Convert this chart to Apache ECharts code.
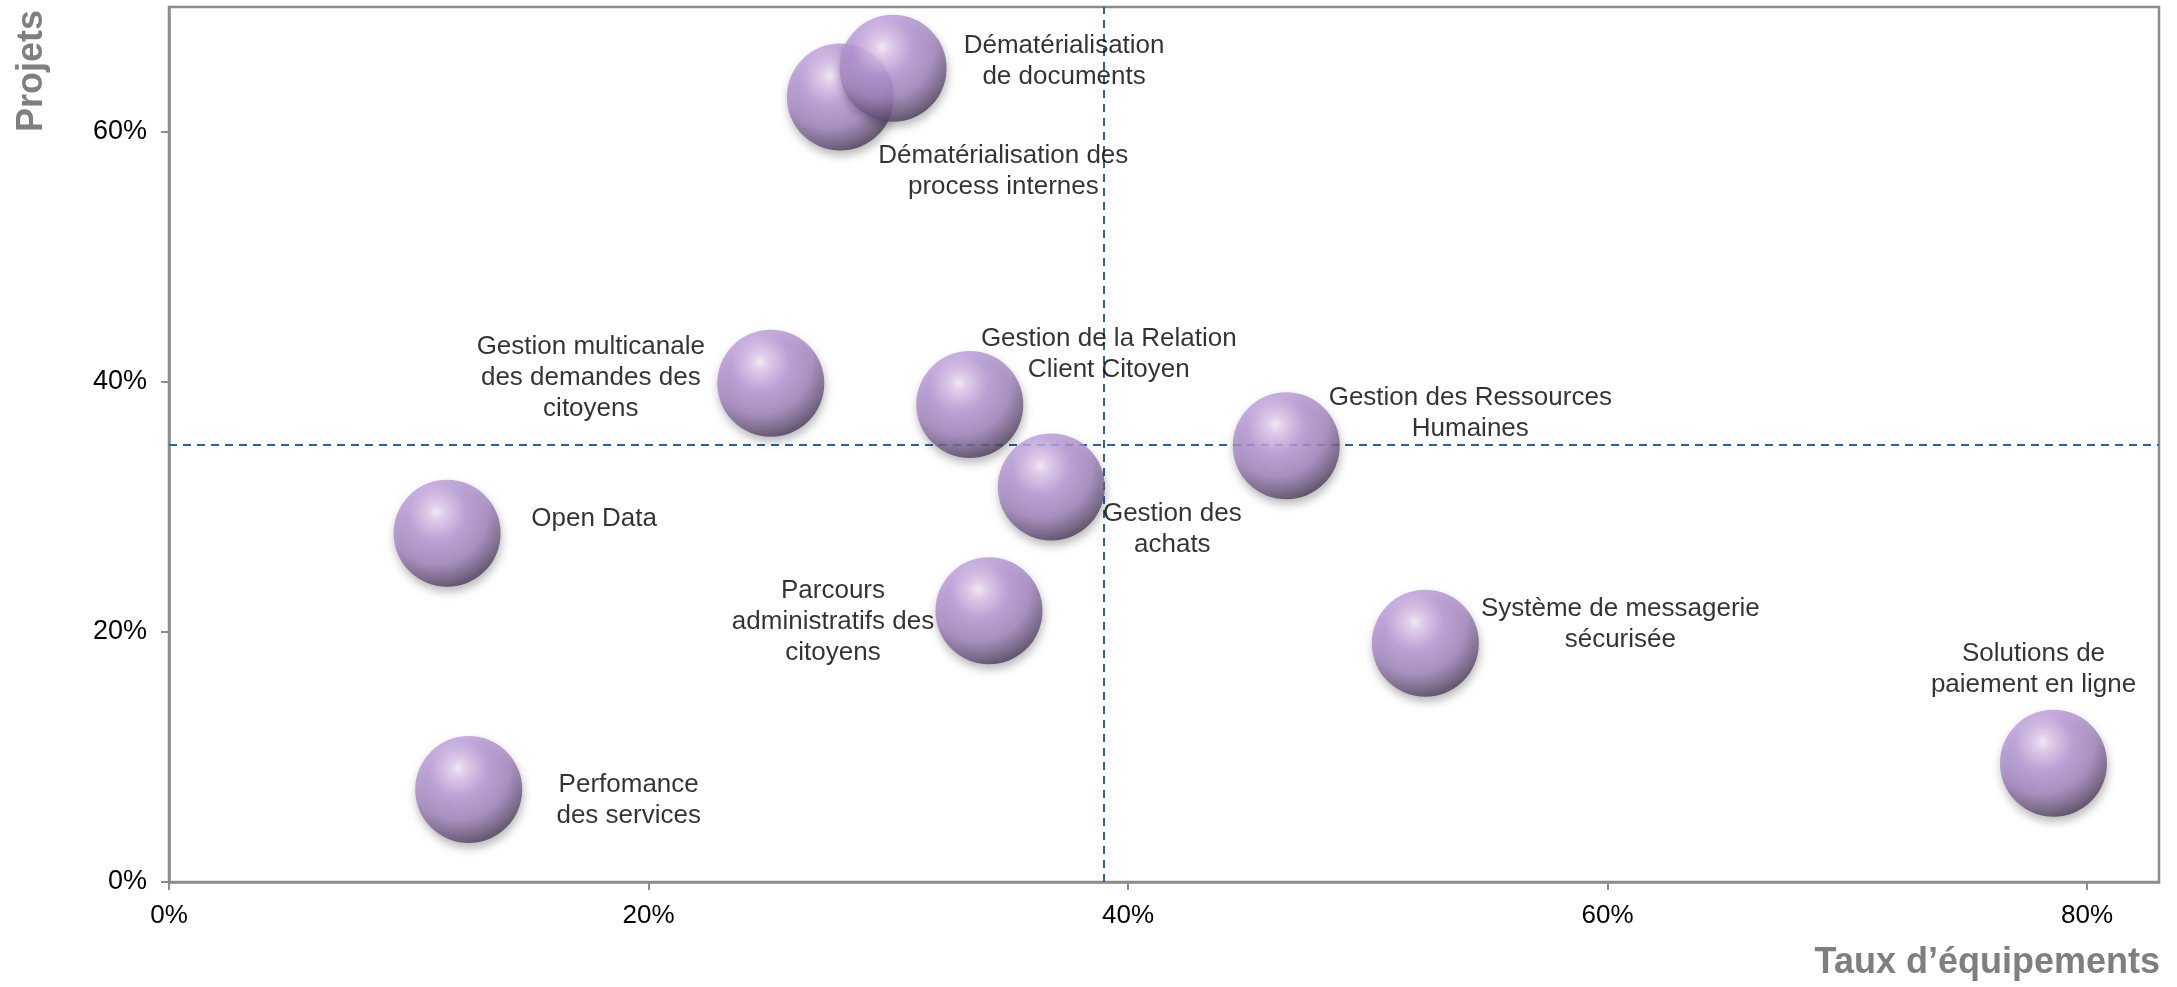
<!DOCTYPE html>
<html>
<head>
<meta charset="utf-8">
<title>Projets / Taux d'équipements</title>
<script src="https://cdn.jsdelivr.net/npm/echarts@6/dist/echarts.min.js"></script>
<style>
  html, body { margin: 0; padding: 0; background: #fff; }
  #chart { width: 2177px; height: 987px; }
</style>
</head>
<body>
<div id="chart"></div>
<script>
// valeurs
const projectNames = [
    'Dématérialisation des\nprocess internes',
    'Dématérialisation\nde documents',
    'Gestion multicanale\ndes demandes des\ncitoyens',
    'Gestion de la Relation\nClient Citoyen',
    'Gestion des\nachats',
    'Gestion des Ressources\nHumaines',
    'Open Data',
    'Parcours\nadministratifs des\ncitoyens',
    'Système de messagerie\nsécurisée',
    'Solutions de\npaiement en ligne',
    'Perfomance\ndes services'
];
const equipRate = [0.280, 0.302, 0.251, 0.334, 0.368, 0.466, 0.116, 0.342, 0.524, 0.786, 0.125];
const projectRate = [0.628, 0.651, 0.399, 0.382, 0.316, 0.349, 0.279, 0.217, 0.191, 0.095, 0.074];
const xTicks = [0, 0.2, 0.4, 0.6, 0.8];
const yTicks = [0, 0.2, 0.4, 0.6];
const avgEquip = 0.392;
const avgProjects = 0.346;

// décalage des étiquettes par rapport au centre de la bulle (px)
const labelOffsets = [
    [163, 74], [171, -7], [-180, -5], [139, -50], [121, 42], [184, -32],
    [147, -14], [-156, 11], [195, -19], [-20, -94], [160, 11]
];

const FONT = '"Liberation Sans", Arial, sans-serif';
const BUBBLE = 107;

const sphere = {
    type: 'radial', x: 0.4, y: 0.3, r: 0.78,
    colorStops: [
        { offset: 0, color: '#fdf6ff' },
        { offset: 0.1, color: '#e8d0f6' },
        { offset: 0.35, color: '#bb9bdb' },
        { offset: 0.62, color: '#a386c0' },
        { offset: 0.82, color: '#6d5880' },
        { offset: 1, color: '#2e2436' }
    ]
};

const bubbles = projectNames.map((name, i) => ({
    name: name,
    value: [equipRate[i], projectRate[i]],
    label: { offset: labelOffsets[i] }
}));

const pct = v => Math.round(v * 100) + '%';

const chart = echarts.init(document.getElementById('chart'), null, { renderer: 'canvas' });

chart.setOption({
    animation: false,
    backgroundColor: '#fff',
    grid: {
        left: 169, top: 7, right: 18, bottom: 105,
        show: true, borderColor: '#8c8c8c', borderWidth: 2.5
    },
    xAxis: {
        type: 'value', min: 0, max: 0.83, interval: 0.2,
        axisLine: { show: true, lineStyle: { color: '#8c8c8c', width: 2.5 } },
        axisTick: { show: true, length: 8, lineStyle: { color: '#8c8c8c', width: 2 } },
        splitLine: { show: false },
        axisLabel: {
            color: '#000', fontSize: 26, fontFamily: FONT, margin: 21,
            showMaxLabel: false,
            formatter: v => xTicks.some(t => Math.abs(t - v) < 1e-6) ? pct(v) : ''
        }
    },
    yAxis: {
        type: 'value', min: 0, max: 0.7, interval: 0.2,
        axisLine: { show: true, lineStyle: { color: '#8c8c8c', width: 2.5 } },
        axisTick: { show: true, length: 8, lineStyle: { color: '#8c8c8c', width: 2 } },
        splitLine: { show: false },
        axisLabel: {
            color: '#000', fontSize: 27, fontFamily: FONT, margin: 22,
            showMaxLabel: false,
            formatter: v => yTicks.some(t => Math.abs(t - v) < 1e-6) ? pct(v) : ''
        }
    },
    series: [
        {
            // lignes de moyenne
            type: 'scatter',
            data: [],
            z: 1,
            markLine: {
                silent: true,
                symbol: 'none',
                label: { show: false },
                lineStyle: { color: '#2a63a8', width: 2, type: [8, 6] },
                data: [{ xAxis: avgEquip }, { yAxis: avgProjects }]
            }
        },
        {
            type: 'scatter',
            z: 5,
            symbol: 'circle',
            symbolSize: BUBBLE,
            data: bubbles,
            itemStyle: {
                color: sphere,
                shadowColor: 'rgba(0,0,0,0.35)',
                shadowBlur: 10,
                shadowOffsetY: 5,
                shadowOffsetX: 1
            },
            label: {
                show: true,
                position: [BUBBLE / 2, BUBBLE / 2],
                formatter: p => p.name,
                color: '#000',
                textBorderWidth: 0,
                fontSize: 26,
                lineHeight: 31,
                fontFamily: FONT,
                align: 'center',
                verticalAlign: 'middle'
            },
            emphasis: { disabled: true }
        }
    ],
    graphic: [
        {
            type: 'text',
            x: 32, y: 71,
            rotation: Math.PI / 2,
            style: {
                text: 'Projets', fill: '#7f7f7f',
                fontSize: 36, fontWeight: 'bold', fontFamily: FONT,
                align: 'center', verticalAlign: 'middle'
            }
        },
        {
            type: 'text',
            x: 2160, y: 963,
            style: {
                text: 'Taux d’équipements', fill: '#7f7f7f',
                fontSize: 36, fontWeight: 'bold', fontFamily: FONT,
                align: 'right', verticalAlign: 'middle'
            }
        }
    ]
});
</script>
</body>
</html>
